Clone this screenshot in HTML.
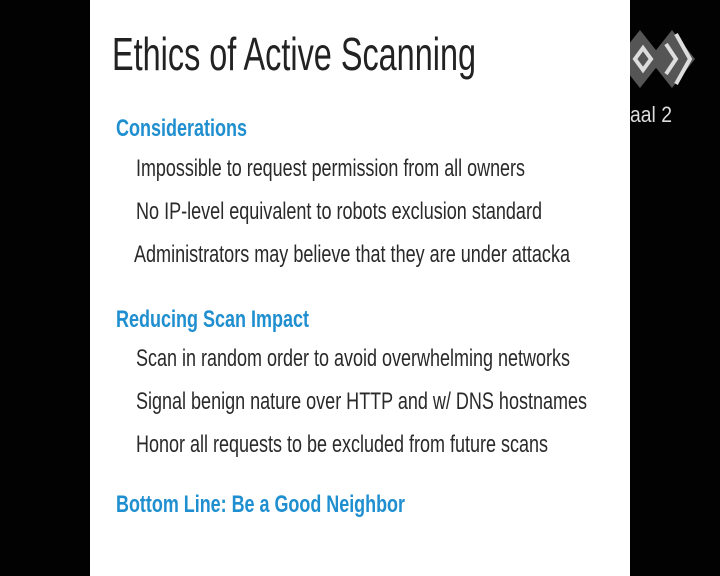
<!DOCTYPE html>
<html><head><meta charset="utf-8"><style>
html,body{margin:0;padding:0;background:#000;width:720px;height:576px;overflow:hidden}
svg{display:block}
</style></head><body>
<svg width="720" height="576" xmlns="http://www.w3.org/2000/svg">
<rect x="0" y="0" width="720" height="576" fill="#020202"/>
<g>
<polygon points="640,30 663,59 640,88 617,59" fill="#555"/>
<polygon points="672,30 695,59 672,88 649,59" fill="#555"/>
<polygon points="643,48 651,59 643,70 635,59" fill="none" stroke="#ddd" stroke-width="4"/>
<polyline points="676,34 690,59 676,84" fill="none" stroke="#ddd" stroke-width="4"/>
<polyline points="666,44 676,59 666,74" fill="none" stroke="#ddd" stroke-width="4"/>
<text x="630" y="122" font-family="Liberation Sans, sans-serif" font-size="22" fill="#ddd" textLength="42" lengthAdjust="spacingAndGlyphs">aal 2</text>
</g>
<rect x="90" y="0" width="540" height="576" fill="#ffffff"/>
<g font-family="Liberation Sans, sans-serif">
<text x="112" y="70" font-size="46" fill="#222" textLength="364" lengthAdjust="spacingAndGlyphs">Ethics of Active Scanning</text>
<g font-weight="bold" fill="#1f8fd0" font-size="24">
<text x="116" y="136" textLength="131" lengthAdjust="spacingAndGlyphs">Considerations</text>
<text x="116" y="327" textLength="193" lengthAdjust="spacingAndGlyphs">Reducing Scan Impact</text>
<text x="116" y="512" textLength="289" lengthAdjust="spacingAndGlyphs">Bottom Line: Be a Good Neighbor</text>
</g>
<g fill="#2a2a2a" font-size="24">
<text x="136" y="176" textLength="389" lengthAdjust="spacingAndGlyphs">Impossible to request permission from all owners</text>
<text x="136" y="219" textLength="406" lengthAdjust="spacingAndGlyphs">No IP-level equivalent to robots exclusion standard</text>
<text x="134" y="262" textLength="436" lengthAdjust="spacingAndGlyphs">Administrators may believe that they are under attacka</text>
<text x="136" y="366" textLength="434" lengthAdjust="spacingAndGlyphs">Scan in random order to avoid overwhelming networks</text>
<text x="136" y="409" textLength="451" lengthAdjust="spacingAndGlyphs">Signal benign nature over HTTP and w/ DNS hostnames</text>
<text x="136" y="452" textLength="412" lengthAdjust="spacingAndGlyphs">Honor all requests to be excluded from future scans</text>
</g>
</g>
</svg>
</body></html>
